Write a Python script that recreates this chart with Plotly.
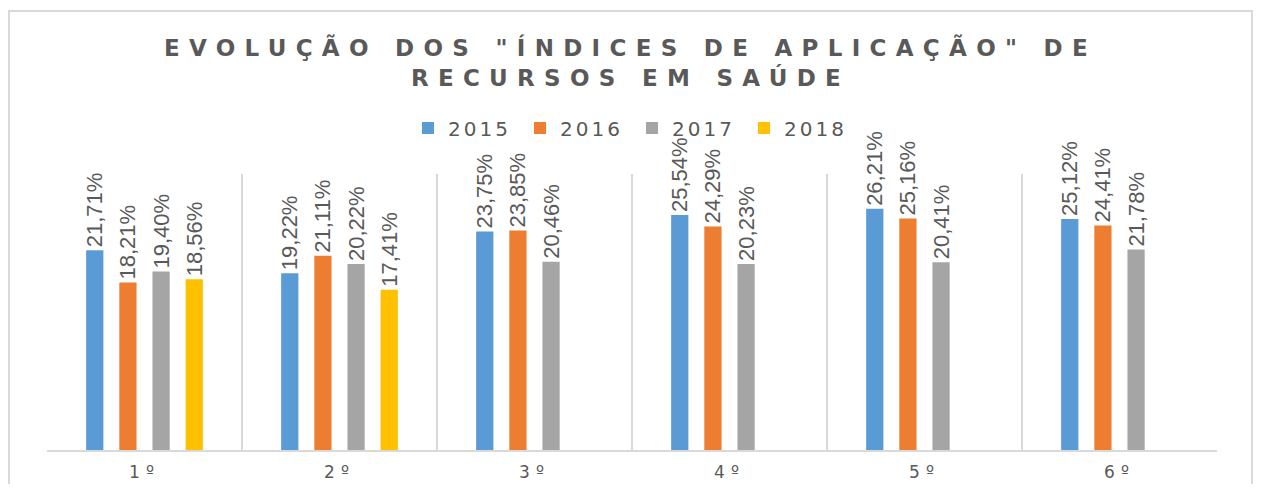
import plotly.graph_objects as go

categories = ["1º", "2º", "3º", "4º", "5º", "6º"]
series_names = ["2015", "2016", "2017", "2018"]
v2015 = [21.71, 19.22, 23.75, 25.54, 26.21, 25.12]
v2016 = [18.21, 21.11, 23.85, 24.29, 25.16, 24.41]
v2017 = [19.40, 20.22, 20.46, 20.23, 20.41, 21.78]
v2018 = [18.56, 17.41, None, None, None, None]
colors = ["#5B9BD5", "#ED7D31", "#A5A5A5", "#FFC000"]
title_lines = ['EVOLUÇÃO DOS "ÍNDICES DE APLICAÇÃO" DE', "RECURSOS EM SAÚDE"]

def fmt(v):
    return "" if v is None else f"{v:.2f}%".replace(".", ",")

fig = go.Figure()
for name, vals, col in zip(series_names, [v2015, v2016, v2017, v2018], colors):
    fig.add_trace(go.Bar(
        x=categories, y=vals, name=f'<span style="letter-spacing:3px">{name}</span>',
        marker=dict(color=col, line=dict(width=0)),
        text=[fmt(v) for v in vals], textposition="outside", textangle=-90,
        constraintext="none",
        textfont=dict(family="Liberation Sans, Arial, sans-serif", size=22, color="#595959"),
        cliponaxis=False,
    ))

title_html = "<br>".join(f'<span style="letter-spacing:9.3px">{t}</span>' for t in title_lines)

fig.update_layout(
    width=1245, height=476,
    margin=dict(l=39, r=36, t=166, b=34),
    paper_bgcolor="white", plot_bgcolor="white",
    barmode="group", bargap=0.32, bargroupgap=0.48,
    title=dict(text=title_html, x=0.5, xanchor="center", y=0.9, yanchor="middle",
               font=dict(family="DejaVu Sans, sans-serif", size=23, color="#595959", weight="bold")),
    legend=dict(orientation="h", x=0.5, xanchor="center", y=1.1667, yanchor="middle",
                font=dict(family="DejaVu Sans, sans-serif", size=20, color="#595959"),
                entrywidth=67, bgcolor="rgba(0,0,0,0)"),
    showlegend=True,
    xaxis=dict(type="category", tickson="boundaries", showgrid=True, gridcolor="#D9D9D9", gridwidth=2,
               showline=True, linecolor="#D9D9D9", linewidth=2, ticks="", ticklabelstandoff=6,
               automargin=False,
               tickvals=categories,
               ticktext=[f'<span style="letter-spacing:6px">{c}</span>' for c in categories],
               tickfont=dict(family="DejaVu Sans, sans-serif", size=17, color="#595959")),
    yaxis=dict(range=[0, 30], showgrid=False, showticklabels=False, zeroline=False, showline=False,
               automargin=False),
    shapes=[dict(type="rect", xref="paper", yref="paper", x0=-0.0325, x1=1.03, y0=-0.3, y1=1.5906,
                 line=dict(color="#D9D9D9", width=2), fillcolor="rgba(0,0,0,0)", layer="below")],
)

fig.write_html("out.html")
